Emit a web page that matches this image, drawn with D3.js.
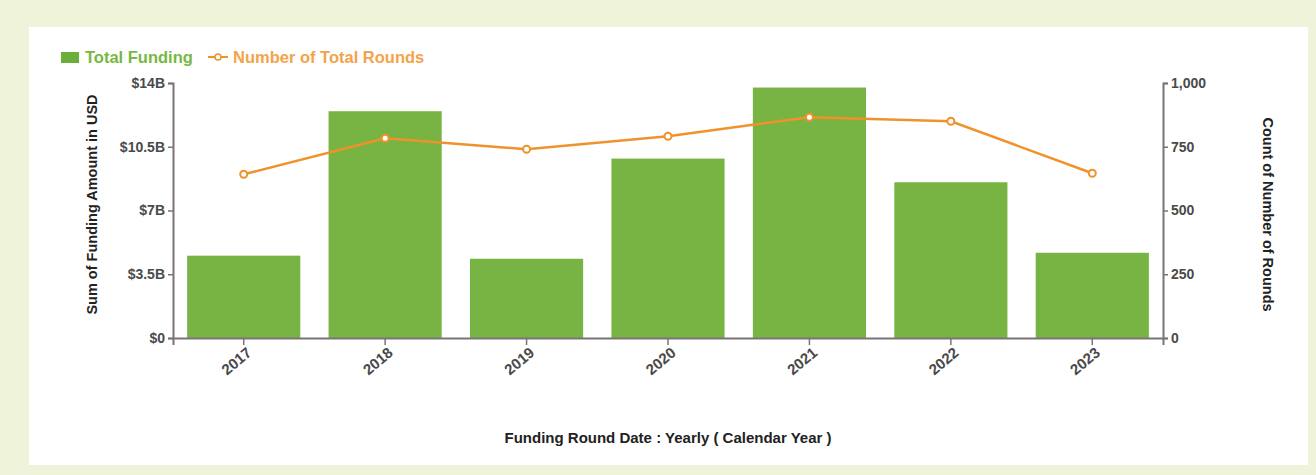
<!DOCTYPE html>
<html>
<head>
<meta charset="utf-8">
<script src="https://cdn.jsdelivr.net/npm/d3@7"></script>
<style>
  html, body { margin: 0; padding: 0; background: #eef3d9; }
  #chart { width: 1316px; height: 475px; }
  text { font-family: "Liberation Sans", Arial, sans-serif; }
</style>
</head>
<body>
<div id="chart"></div>
<script>
// Yearly funding data
const years = ["2017", "2018", "2019", "2020", "2021", "2022", "2023"];
const totalFunding = [4.52e9, 12.45e9, 4.35e9, 9.85e9, 13.75e9, 8.55e9, 4.68e9];
const totalRounds = [642, 783, 740, 791, 866, 850, 646];
const fundingTicks = [0, 3.5e9, 7e9, 10.5e9, 14e9];
const fundingTickLabels = ["$0", "$3.5B", "$7B", "$10.5B", "$14B"];
const roundTicks = [0, 250, 500, 750, 1000];

const width = 1316, height = 475;
const margin = { top: 83, right: 153, bottom: 138, left: 173 };

const svg = d3.select("#chart").append("svg")
    .attr("width", width)
    .attr("height", height);

// white panel
svg.append("rect")
    .attr("x", 29).attr("y", 27)
    .attr("width", 1279).attr("height", 438)
    .attr("fill", "#ffffff");

const x = d3.scaleBand()
    .domain(years)
    .range([margin.left, width - margin.right])
    .paddingInner(0.2)
    .paddingOuter(0.1);

const yLeft = d3.scaleLinear()
    .domain([0, 14e9])
    .range([height - margin.bottom + 1, margin.top]);

const yRight = d3.scaleLinear()
    .domain([0, 1000])
    .range([height - margin.bottom + 1, margin.top]);

// bars
svg.append("g").selectAll("rect")
    .data(years)
    .join("rect")
    .attr("x", d => x(d))
    .attr("y", (d, i) => yLeft(totalFunding[i]))
    .attr("width", x.bandwidth())
    .attr("height", (d, i) => yLeft(0) - yLeft(totalFunding[i]))
    .attr("fill", "#78b443");

// axes
const axisColor = "#7a7476";
const leftAxis = svg.append("g")
    .attr("transform", `translate(${margin.left},0)`)
    .call(d3.axisLeft(yLeft).tickValues(fundingTicks)
        .tickFormat((d, i) => fundingTickLabels[i]).tickSizeOuter(0).tickSize(5).tickPadding(3));

const rightAxis = svg.append("g")
    .attr("transform", `translate(${width - margin.right},0)`)
    .call(d3.axisRight(yRight).tickValues(roundTicks)
        .tickFormat(d3.format(",")).tickSizeOuter(0).tickSize(5).tickPadding(3));

const bottomAxis = svg.append("g")
    .attr("transform", `translate(0,${yLeft(0)})`)
    .call(d3.axisBottom(x).tickSizeOuter(0).tickSize(7));

[leftAxis, rightAxis, bottomAxis].forEach(g => {
    g.select(".domain").attr("stroke", axisColor).attr("stroke-width", 2);
    g.selectAll(".tick line").attr("stroke", axisColor).attr("stroke-width", 1.5);
    g.selectAll(".tick text")
        .attr("fill", "#4a4a4a")
        .style("font-size", "14px")
        .style("font-weight", "bold");
});

bottomAxis.selectAll("text")
    .style("font-size", "15px")
    .attr("text-anchor", "end")
    .attr("dx", "-0.25em")
    .attr("dy", "0.55em")
    .attr("transform", "rotate(-40)");

// line
const cx = d => x(d) + x.bandwidth() / 2;
const line = d3.line()
    .x(d => cx(d))
    .y((d, i) => yRight(totalRounds[i]));

svg.append("path")
    .datum(years)
    .attr("d", line)
    .attr("fill", "none")
    .attr("stroke", "#f0922b")
    .attr("stroke-width", 2.5);

svg.append("g").selectAll("circle")
    .data(years)
    .join("circle")
    .attr("cx", d => cx(d))
    .attr("cy", (d, i) => yRight(totalRounds[i]))
    .attr("r", 3.5)
    .attr("fill", "#fff")
    .attr("stroke", "#f0922b")
    .attr("stroke-width", 2);

// axis titles
svg.append("text")
    .attr("transform", `translate(97,${(yLeft(0) + margin.top) / 2 - 6}) rotate(-90)`)
    .attr("text-anchor", "middle")
    .style("font-size", "14.5px")
    .style("font-weight", "bold")
    .attr("fill", "#222")
    .text("Sum of Funding Amount in USD");

svg.append("text")
    .attr("transform", `translate(1263,${(yLeft(0) + margin.top) / 2 + 4}) rotate(90)`)
    .attr("text-anchor", "middle")
    .style("font-size", "14.5px")
    .style("font-weight", "bold")
    .attr("fill", "#222")
    .text("Count of Number of Rounds");

svg.append("text")
    .attr("x", (margin.left + width - margin.right) / 2)
    .attr("y", 443)
    .attr("text-anchor", "middle")
    .style("font-size", "15px")
    .style("font-weight", "bold")
    .attr("fill", "#222")
    .text("Funding Round Date : Yearly ( Calendar Year )");

// legend
const legend = svg.append("g").attr("transform", "translate(61,57)");
legend.append("rect")
    .attr("x", 0).attr("y", -5)
    .attr("width", 18).attr("height", 11)
    .attr("fill", "#6aaf3a");
legend.append("text")
    .attr("x", 24).attr("y", 6)
    .style("font-size", "16.5px")
    .style("font-weight", "bold")
    .attr("fill", "#76b843")
    .text("Total Funding");
legend.append("line")
    .attr("x1", 147).attr("x2", 167)
    .attr("y1", 0).attr("y2", 0)
    .attr("stroke", "#f0922b").attr("stroke-width", 2);
legend.append("circle")
    .attr("cx", 157).attr("cy", 0).attr("r", 3)
    .attr("fill", "#fff").attr("stroke", "#f0922b").attr("stroke-width", 1.5);
legend.append("text")
    .attr("x", 172).attr("y", 6)
    .style("font-size", "16.5px")
    .style("font-weight", "bold")
    .attr("fill", "#f4a34a")
    .text("Number of Total Rounds");
</script>
</body>
</html>
